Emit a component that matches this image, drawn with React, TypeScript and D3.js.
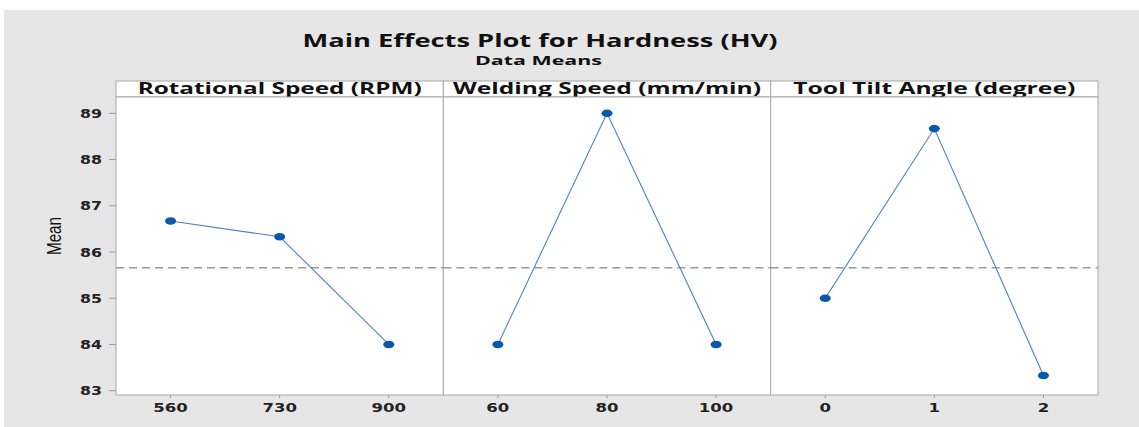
import React from "react";
import * as d3 from "d3";

const title = "Main Effects Plot for Hardness (HV)";
const subtitle = "Data Means";
const yLabel = "Mean";
const factors = ["Rotational Speed (RPM)", "Welding Speed (mm/min)", "Tool Tilt Angle (degree)"];
const levelsRPM = ["560", "730", "900"];
const levelsWS = ["60", "80", "100"];
const levelsTilt = ["0", "1", "2"];
const meansRPM = [86.67, 86.33, 84.0];
const meansWS = [84.0, 89.0, 84.0];
const meansTilt = [85.0, 88.67, 83.33];
const yTicks = [83, 84, 85, 86, 87, 88, 89];
const grandMean = 85.66;

const panelLevels = [levelsRPM, levelsWS, levelsTilt];
const panelMeans = [meansRPM, meansWS, meansTilt];

export default function App() {
  const W = 1139, H = 427;
  const left = 116, right = 1098, top = 97, bottom = 395, stripTop = 81;
  const panelW = (right - left) / 3;
  const y = d3.scaleLinear().domain([82.907, 89.353]).range([bottom, top]);
  const font = "'Open Sans', 'DejaVu Sans', sans-serif";
  const tickFont = "'DejaVu Sans', Verdana, sans-serif";
  const lineGen = d3.line<[number, number]>().x(d => d[0]).y(d => d[1]);
  const headerLens = [284, 308, 282];

  return (
    <svg width={W} height={H} style={{ position: "absolute", left: 0, top: 0 }} fontFamily={font}>
      <rect x={0} y={0} width={W} height={H} fill="#ffffff" />
      <rect x={4} y={10} width={W - 4} height={H - 10} fill="#e6e6e6" />
      <text x={540} y={46.5} textAnchor="middle" fontSize={18.5} fontWeight={700} fill="#111" textLength={475} lengthAdjust="spacingAndGlyphs">{title}</text>
      <text x={538.5} y={65} textAnchor="middle" fontSize={13} fontWeight={700} fill="#111" textLength={127} lengthAdjust="spacingAndGlyphs">{subtitle}</text>

      {/* y axis */}
      {yTicks.map(t => (
        <g key={t}>
          <line x1={109} x2={left} y1={y(t)} y2={y(t)} stroke="#999" strokeWidth={1} />
          <text x={102} y={y(t)} dy="0.36em" textAnchor="end" fontFamily={tickFont} fontSize={13} fontWeight={700} fill="#222" textLength={String(t).length * 11} lengthAdjust="spacingAndGlyphs">{t}</text>
        </g>
      ))}
      <text transform={`translate(61,236) rotate(-90)`} textAnchor="middle" fontFamily="'Liberation Sans Narrow', Arial, sans-serif" fontSize={20} fill="#111" textLength={38} lengthAdjust="spacingAndGlyphs">{yLabel}</text>

      {factors.map((f, i) => {
        const px0 = left + i * panelW;
        const px1 = px0 + panelW;
        const x = d3.scalePoint<string>().domain(panelLevels[i]).range([px0, px1]).padding(0.5);
        const pts: [number, number][] = panelLevels[i].map((l, j) => [x(l) as number, y(panelMeans[i][j])]);
        return (
          <g key={f}>
            <rect x={px0} y={stripTop} width={panelW} height={top - stripTop} fill="#fff" stroke="#a8a8a8" strokeWidth={1} />
            <text x={(px0 + px1) / 2} y={94} textAnchor="middle" fontSize={15.5} fontWeight={700} fill="#111" textLength={headerLens[i]} lengthAdjust="spacingAndGlyphs">{f}</text>
            <rect x={px0} y={top} width={panelW} height={bottom - top} fill="#fff" stroke="#a8a8a8" strokeWidth={1} />
            <line x1={px0} x2={px1} y1={y(grandMean)} y2={y(grandMean)} stroke="#9a9a9a" strokeWidth={1.3} strokeDasharray="8,5" />
            <path d={lineGen(pts) || ""} fill="none" stroke="#4d82c0" strokeWidth={1.1} />
            {pts.map((p, j) => (
              <ellipse key={j} cx={p[0]} cy={p[1]} rx={5.5} ry={3.8} fill="#0a58a8" />
            ))}
            {panelLevels[i].map(l => (
              <g key={l}>
                <line x1={x(l)} x2={x(l)} y1={bottom} y2={bottom + 3} stroke="#999" />
                <text x={x(l)} y={412} textAnchor="middle" fontFamily={tickFont} fontSize={13} fontWeight={700} fill="#222" textLength={l.length * 11.5} lengthAdjust="spacingAndGlyphs">{l}</text>
              </g>
            ))}
          </g>
        );
      })}
    </svg>
  );
}
